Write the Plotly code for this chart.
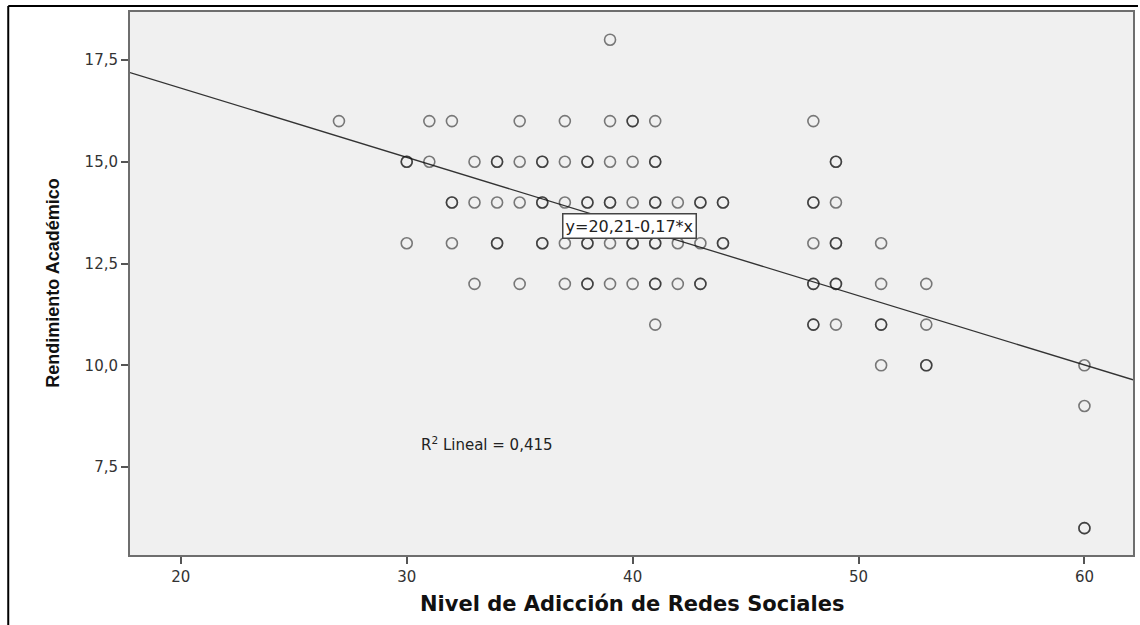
import plotly.graph_objects as go

# --- data (x = Nivel de Adicción, y = Rendimiento, n = overlapping cases) ---
x_values = [39,
            27, 31, 32, 35, 37, 39, 40, 41, 48,
            30, 31, 33, 34, 35, 36, 37, 38, 39, 40, 41, 49,
            32, 33, 34, 35, 36, 37, 38, 39, 40, 41, 42, 43, 44, 48, 49,
            30, 32, 34, 36, 37, 38, 39, 40, 41, 42, 43, 44, 48, 49, 51,
            33, 35, 37, 38, 39, 40, 41, 42, 43, 48, 49, 51, 53,
            41, 48, 49, 51, 53,
            51, 53, 60,
            60,
            60]
y_values = [18,
            16, 16, 16, 16, 16, 16, 16, 16, 16,
            15, 15, 15, 15, 15, 15, 15, 15, 15, 15, 15, 15,
            14, 14, 14, 14, 14, 14, 14, 14, 14, 14, 14, 14, 14, 14, 14,
            13, 13, 13, 13, 13, 13, 13, 13, 13, 13, 13, 13, 13, 13, 13,
            12, 12, 12, 12, 12, 12, 12, 12, 12, 12, 12, 12, 12,
            11, 11, 11, 11, 11,
            10, 10, 10,
            9,
            6]
counts = [1,
          1, 1, 1, 1, 1, 1, 2, 1, 1,
          2, 1, 1, 2, 1, 2, 1, 2, 1, 1, 2, 2,
          2, 1, 1, 1, 2, 1, 2, 2, 1, 2, 1, 2, 2, 2, 1,
          1, 1, 2, 2, 1, 2, 1, 2, 2, 1, 1, 2, 1, 2, 1,
          1, 1, 1, 2, 1, 1, 2, 1, 2, 2, 2, 1, 1,
          1, 2, 1, 2, 1,
          1, 2, 1,
          1,
          2]

intercept = 20.21
slope = -0.17
r2_text = "R<sup>2</sup> Lineal = 0,415"
eq_text = "y=20,21-0,17*x"

x_ticks = [20, 30, 40, 50, 60]
y_ticks = [7.5, 10.0, 12.5, 15.0, 17.5]
y_tick_text = ["7,5", "10,0", "12,5", "15,0", "17,5"]

x_range = [17.75, 62.15]
y_range = [5.34, 18.68]

# expand overlapping cases
px, py = [], []
for xv, yv, c in zip(x_values, y_values, counts):
    px += [xv] * c
    py += [yv] * c

fig = go.Figure()
fig.add_trace(go.Scatter(
    x=[x_range[0], x_range[1]],
    y=[intercept + slope * x_range[0], intercept + slope * x_range[1]],
    mode="lines", line=dict(color="#333333", width=1.3),
    showlegend=False, hoverinfo="skip"))
fig.add_trace(go.Scatter(
    x=px, y=py, mode="markers",
    marker=dict(symbol="circle-open", size=11, color="rgba(20,20,20,0.55)",
                line=dict(width=1.6, color="rgba(20,20,20,0.55)")),
    showlegend=False))

W, H = 1140, 625
L, R, T, B = 130, 5, 12, 70
pw, ph = W - L - R, H - T - B

def xp(pix):
    return (pix - L) / pw

def yp(pix):
    return (H - B - pix) / ph

tick_font = dict(size=15, color="#333333", family="DejaVu Sans, Verdana, sans-serif")

fig.update_layout(
    width=W, height=H,
    margin=dict(l=L, r=R, t=T, b=B),
    paper_bgcolor="white", plot_bgcolor="#f0f0f0",
    font=dict(family="DejaVu Sans, Arial, sans-serif", color="#333333"),
    xaxis=dict(range=x_range, tickvals=x_ticks, ticks="outside", ticklen=7,
               tickwidth=2, tickcolor="#555555", showgrid=False, zeroline=False,
               showline=True, linecolor="#6e6e6e", linewidth=2, mirror=True,
               tickfont=tick_font),
    yaxis=dict(range=y_range, tickvals=y_ticks, ticktext=y_tick_text, ticks="outside",
               ticklen=7, tickwidth=2, tickcolor="#555555", showgrid=False,
               zeroline=False, showline=True, linecolor="#6e6e6e", linewidth=2,
               mirror=True, tickfont=tick_font),
    annotations=[
        dict(x=39.86, y=13.42, xref="x", yref="y", text=eq_text, showarrow=False,
             font=dict(size=16, color="#222222", family="DejaVu Sans, Verdana, sans-serif"),
             bgcolor="white", bordercolor="#444444", borderwidth=1.5, borderpad=2),
        dict(x=30.55, y=8.07, xref="x", yref="y", text=r2_text, showarrow=False,
             xanchor="left",
             font=dict(size=15, color="#222222", family="DejaVu Sans, Verdana, sans-serif")),
        dict(x=0.5, y=yp(604), xref="paper", yref="paper",
             text="<b>Nivel de Adicción de Redes Sociales</b>", showarrow=False,
             xanchor="center", yanchor="middle",
             font=dict(size=21, color="#111111", family="DejaVu Sans, Verdana, sans-serif")),
        dict(x=xp(52), y=0.5, xref="paper", yref="paper",
             text="<b>Rendimiento Académico</b>", showarrow=False, textangle=-90,
             xanchor="center", yanchor="middle",
             font=dict(size=18, color="#111111",
                       family="Liberation Sans Narrow, Liberation Sans, Arial, sans-serif")),
    ],
    shapes=[
        dict(type="line", xref="paper", yref="paper", x0=xp(8), x1=xp(1140),
             y0=yp(6), y1=yp(6), line=dict(color="black", width=2)),
        dict(type="line", xref="paper", yref="paper", x0=xp(8), x1=xp(8),
             y0=yp(6), y1=yp(625), line=dict(color="black", width=2)),
    ],
)

fig.write_html("out.html", config={"displayModeBar": False},
               post_script="document.body.style.margin='0';")
